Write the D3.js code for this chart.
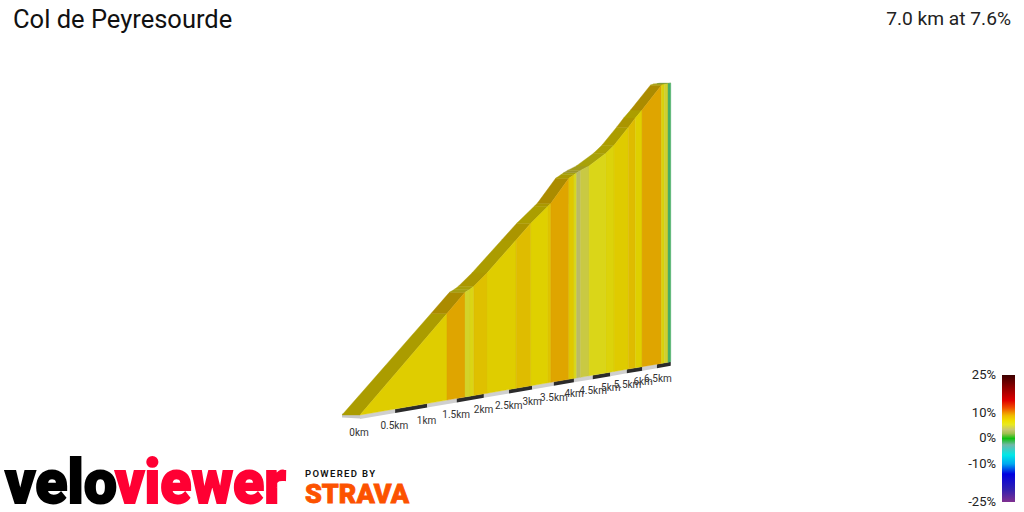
<!DOCTYPE html>
<html><head><meta charset="utf-8">
<script src="https://cdnjs.cloudflare.com/ajax/libs/d3/7.8.5/d3.min.js"></script>
<style>html,body{margin:0;padding:0;background:#fff}svg{display:block}text{font-family:Roboto,sans-serif}</style>
</head><body><svg id="c" width="1024" height="512"></svg>
<script>
const titleText = "Col de Peyresourde";
const summaryText = "7.0 km at 7.6%";
const breaksKm = [0,1.33,1.648,1.739,1.81,2.06,2.65,2.97,3.36,3.43,3.87,4.0,4.07,4.17,4.40,4.87,5.11,5.55,5.77,5.99,6.66,6.76,6.90,7];
const elevations = [0,112,139,143,147,165,213,239,267,272,315,322,326,331,341,368,385,423,443,461,520,524,528,531];
const gradients = [7.2,9.3,5.2,6,8,7.2,8.2,7,7.7,9.3,7.5,5.5,3.5,4.5,5.8,6.5,7.3,8.2,7,9.3,6.5,5,-1.5];
const tickKm = [0,0.5,1,1.5,2,2.5,3,3.5,4,4.5,5,5.5,6,6.5];
const tickNames = ["0km","0.5km","1km","1.5km","2km","2.5km","3km","3.5km","4km","4.5km","5km","5.5km","6km","6.5km"];
const legendTicks = [25,10,0,-10,-25];
const legendStops = [25,20,15,12,10,9,7,5.5,3.5,2,0,-2.5,-6.5,-10,-14,-20,-25];
const legendColors = ["#3c0000","#900000","#e00000","#f05000","#f09a00","#f0bb00","#f0e000","#e8e820","#c8c870","#a0c050","#10c010","#70b8a8","#00e8e8","#00a8f0","#0000e0","#3020b0","#803090"];

const svg = d3.select("#c");
const color = d3.scaleLinear().domain(legendStops).range(legendColors).interpolate(d3.interpolateRgb);
const shade = (c,f)=>{const r=d3.rgb(c);return d3.rgb(r.r*f,r.g*f,r.b*f).formatHex();};
const roadColor = g=>d3.interpolateRgb(shade(color(g),0.72),"#a89a00")(0.45);

// perspective projection of distance and height to the screen
const persp = 0.094;
const depth = d=>1+persp*d;
const xFront = d=>360+73.6*d/depth(d);
const yBase = d=>415-0.1712*(xFront(d)-360);
const pxPerM = 0.87;
const yTop = (d,e)=>yBase(d)-e*pxPerM/depth(d);
const roadDx = d=>-18/depth(d);

const line = d3.line().x(p=>p[0]).y(p=>p[1]);

// base strip
const stripH = 4;
const tickEdges = tickKm.concat([7]);
svg.append("path").attr("fill","#c8c8c8")
  .attr("d",line([[xFront(0),yBase(0)-1],[xFront(0)+roadDx(0),yBase(0)-1.5],[xFront(0)+roadDx(0),yBase(0)+2.5],[xFront(0),yBase(0)+stripH-0.4]])+"Z");
d3.range(tickKm.length).forEach(i=>{
  const a=tickEdges[i],b=tickEdges[i+1];
  svg.append("path").attr("fill",i%2?"#2b2b2b":"#cfcfcf")
    .attr("d",line([[xFront(a),yBase(a)],[xFront(b),yBase(b)],[xFront(b),yBase(b)+stripH],[xFront(a),yBase(a)+stripH]])+"Z");
});

// road surface
gradients.forEach((g,i)=>{
  const a=breaksKm[i],b=breaksKm[i+1],ea=elevations[i],eb=elevations[i+1];
  const pts=[[xFront(a),yTop(a,ea)],[xFront(b),yTop(b,eb)],
             [xFront(b)+roadDx(b),yTop(b,eb)],[xFront(a)+roadDx(a),yTop(a,ea)]];
  svg.append("path").attr("d",line(pts)+"Z").attr("fill",roadColor(g)).attr("stroke",roadColor(g)).attr("stroke-width",0.4);
});
// wall
gradients.forEach((g,i)=>{
  const a=breaksKm[i],b=breaksKm[i+1],ea=elevations[i],eb=elevations[i+1];
  const pts=[[xFront(a),yBase(a)],[xFront(a),yTop(a,ea)],[xFront(b),yTop(b,eb)],[xFront(b),yBase(b)]];
  svg.append("path").attr("d",line(pts)+"Z").attr("fill",shade(color(g),0.93)).attr("stroke",shade(color(g),0.9)).attr("stroke-width",0.4);
});

// distance labels
const labelX = d=>xFront(d)-1+d*0.3;
const labelY = d=>432-0.1712*(xFront(d)-360)-d*0.4;
svg.selectAll(".dist").data(tickKm).join("text").attr("class","dist")
  .attr("x",labelX).attr("y",d=>labelY(d)+3.5).attr("text-anchor","middle")
  .attr("font-size",10).attr("fill","#333").text((d,i)=>tickNames[i]);

// title
svg.append("text").attr("x",13).attr("y",28).attr("font-size",25.5).attr("fill","#111").text(titleText);
svg.append("text").attr("x",1011).attr("y",25).attr("text-anchor","end").attr("font-size",19.2).attr("fill","#222").text(summaryText);

// legend
const legY = d3.scaleLinear().domain([25,-25]).range([375,502]);
const defs = svg.append("defs");
const lg = defs.append("linearGradient").attr("id","lg").attr("x1",0).attr("x2",0).attr("y1",0).attr("y2",1);
legendStops.forEach((s,i)=>lg.append("stop").attr("offset",(25-s)/50).attr("stop-color",legendColors[i]));
svg.append("rect").attr("x",1002).attr("y",legY(25)).attr("width",13).attr("height",legY(-25)-legY(25)).attr("fill","url(#lg)");
const legAxis = d3.axisLeft(legY).tickValues(legendTicks).tickFormat(d=>d+"%").tickSize(0).tickPadding(0);
const ga = svg.append("g").attr("transform","translate(996,-0.7)").call(legAxis);
ga.select(".domain").remove();
ga.selectAll("text").attr("font-size",13).attr("font-family","Roboto").attr("fill","#222");

// logos
const logo=(t,x,w,c)=>svg.append("text").attr("x",x).attr("y",503).attr("font-family","Lato").attr("font-weight",900).attr("font-size",62)
  .attr("textLength",w).attr("lengthAdjust","spacingAndGlyphs").attr("fill",c).attr("stroke",c).attr("stroke-width",1.8).text(t);
logo("velo",5,112,"#000");
logo("viewer",115,171,"#ff0033");
svg.append("text").attr("x",305).attr("y",477).attr("font-family","Inter").attr("font-weight",600).attr("font-size",9.5)
  .attr("textLength",70).attr("fill","#111").text("POWERED BY");
svg.append("text").attr("x",305).attr("y",503).attr("font-family","Inter").attr("font-weight",900).attr("font-size",26)
  .attr("textLength",104).attr("lengthAdjust","spacingAndGlyphs").attr("fill","#fc5200").attr("stroke","#fc5200").attr("stroke-width",0.8).text("STRAVA");
</script></body></html>
